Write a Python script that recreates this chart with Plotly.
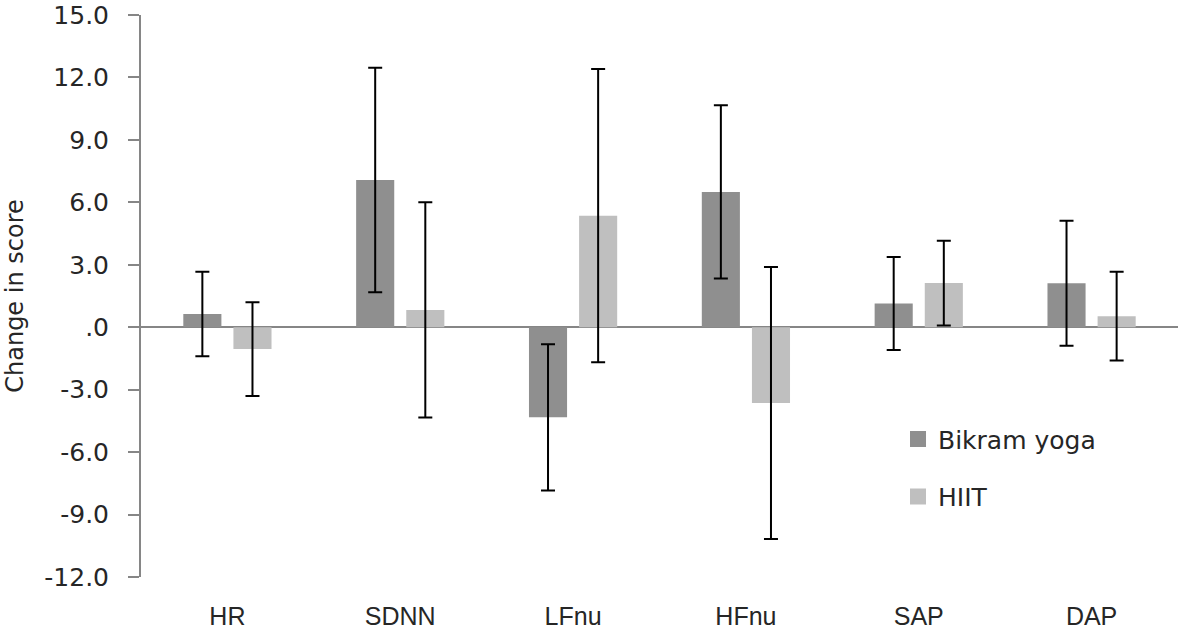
import plotly.graph_objects as go

categories = ["HR", "SDNN", "LFnu", "HFnu", "SAP", "DAP"]
bikram = [0.64, 7.07, -4.33, 6.5, 1.14, 2.11]
bikram_err = [2.03, 5.39, 3.51, 4.16, 2.23, 3.0]
hiit = [-1.05, 0.83, 5.36, -3.64, 2.12, 0.53]
hiit_err = [2.25, 5.17, 7.04, 6.53, 2.04, 2.13]
y_ticks = [-12, -9, -6, -3, 0, 3, 6, 9, 12, 15]
y_ticktext = ["-12.0", "-9.0", "-6.0", "-3.0", ".0", "3.0", "6.0", "9.0", "12.0", "15.0"]

c_bik = "#8f8f8f"
c_hiit = "#bfbfbf"
font_main = "DejaVu Sans, Verdana, sans-serif"

fig = go.Figure()
for name, vals, errs, col in [("Bikram yoga", bikram, bikram_err, c_bik),
                              ("HIIT", hiit, hiit_err, c_hiit)]:
    fig.add_trace(go.Bar(
        x=categories, y=vals, name=name, marker=dict(color=col, line=dict(width=0)),
        error_y=dict(type="data", array=errs, visible=True, color="black",
                     thickness=2, width=7),
        showlegend=False))
    fig.add_trace(go.Scatter(
        x=[None], y=[None], mode="markers", name=name, legendgroup=name,
        marker=dict(symbol="square", size=16, color=col)))

fig.update_layout(
    width=1181, height=634,
    margin=dict(l=141, r=3, t=15, b=57),
    paper_bgcolor="white", plot_bgcolor="white",
    barmode="group", bargap=0.42, bargroupgap=0.24,
    font=dict(family=font_main, size=25, color="#262626"),
    legend=dict(x=0.73, y=0.286, xanchor="left", yanchor="top",
                font=dict(family=font_main, size=25, color="#262626"),
                tracegroupgap=22, itemsizing="trace", bgcolor="rgba(0,0,0,0)"),
)
fig.update_xaxes(
    showline=False, showgrid=False, zeroline=False, ticks="",
    tickfont=dict(family="Liberation Sans, Arial, sans-serif",
                  size=25, color="#262626"),
    ticklabelstandoff=22, automargin=False,
)
fig.update_yaxes(
    range=[-12, 15], tickvals=y_ticks, ticktext=y_ticktext,
    showline=True, linecolor="#868686", linewidth=2,
    ticks="outside", ticklen=11, tickcolor="#868686", tickwidth=2,
    showgrid=False, zeroline=True, zerolinecolor="#868686", zerolinewidth=2,
    tickfont=dict(family=font_main, size=25, color="#262626"),
    ticklabelstandoff=14, ticklabeloverflow="allow",
    title=dict(text="Change in score", standoff=14,
               font=dict(family=font_main, size=24, color="#262626")),
    automargin=False,
)

fig.write_html("out.html", config={"displayModeBar": False},
               post_script="document.body.style.margin='0';")
